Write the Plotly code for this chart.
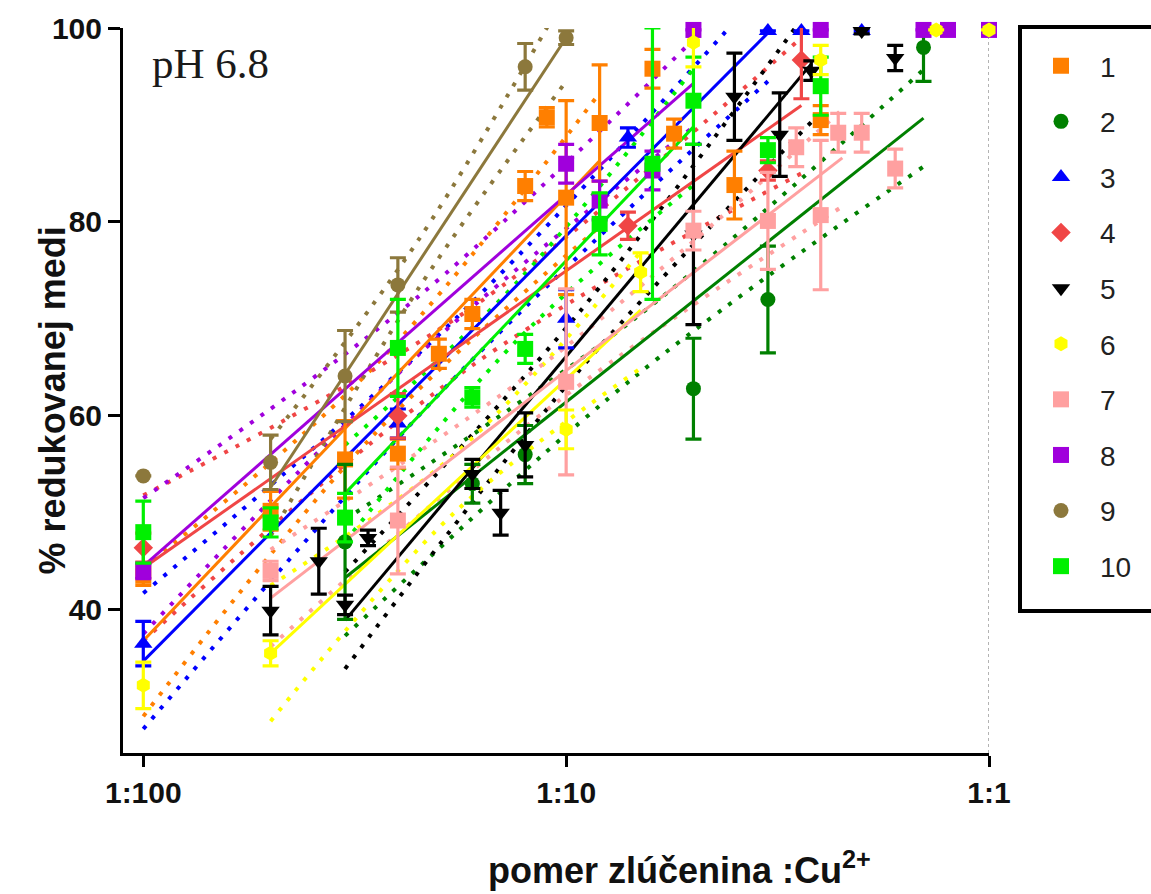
import plotly.graph_objects as go

# ---- data: ratio compound : Cu2+ (x) and % reduced copper (y) ----
names = ["1", "2", "3", "4", "5", "6", "7", "8", "9", "10"]

x1 = [0.01, 0.02, 0.03, 0.04, 0.05, 0.06, 0.08, 0.09, 0.1, 0.12, 0.16, 0.18, 0.25, 0.4]
y1 = [43.5, 50.2, 55.5, 56.1, 66.4, 70.5, 83.7, 90.8, 82.5, 90.2, 95.8, 89.1, 83.8, 90.5]
e1 = [1.0, 2.0, 4.0, 1.5, 1.5, 1.5, 1.5, 1.0, 10.0, 6.0, 2.0, 1.5, 3.5, 1.5]

x2 = [0.03, 0.06, 0.08, 0.2, 0.3, 0.7]
y2 = [47.0, 53.0, 56.0, 62.8, 72.0, 98.0]
e2 = [8.0, 2.0, 3.0, 5.2, 5.5, 3.5]

x3 = [0.01, 0.04, 0.1, 0.14, 0.3, 0.36, 0.5]
y3 = [36.5, 59.2, 70.0, 88.7, 99.7, 99.7, 99.7]
e3 = [2.3, 1.5, 3.0, 1.0, 0.0, 0.0, 0.0]

x4 = [0.01, 0.04, 0.14, 0.3, 0.36]
y4 = [46.4, 60.0, 79.6, 85.3, 96.7]
e4 = [1.5, 2.3, 1.4, 1.0, 4.0]

x5 = [0.02, 0.026, 0.03, 0.034, 0.06, 0.07, 0.08, 0.2, 0.25, 0.32, 0.38, 0.5, 0.6]
y5 = [39.9, 45.0, 40.5, 47.4, 54.0, 50.0, 57.0, 78.7, 92.9, 89.0, 95.6, 99.7, 96.9]
e5 = [2.5, 3.4, 1.0, 0.8, 1.5, 2.3, 3.3, 9.3, 4.5, 4.3, 1.0, 0.3, 1.3]

x6 = [0.01, 0.02, 0.1, 0.15, 0.2, 0.4, 0.75, 1.0]
y6 = [32.2, 35.5, 58.6, 74.8, 98.5, 96.7, 99.8, 99.8]
e6 = [2.4, 1.3, 2.0, 2.0, 2.5, 1.5, 0.0, 0.0]

x7 = [0.02, 0.04, 0.1, 0.2, 0.3, 0.35, 0.4, 0.44, 0.5, 0.6]
y7 = [44.0, 49.2, 63.5, 79.1, 80.1, 87.7, 80.7, 89.2, 89.2, 85.5]
e7 = [1.0, 5.5, 9.6, 2.0, 5.0, 2.0, 7.7, 2.0, 2.0, 2.0]

x8 = [0.01, 0.1, 0.12, 0.16, 0.2, 0.4, 0.7, 0.8, 1.0]
y8 = [44.0, 86.0, 82.2, 85.3, 99.8, 99.8, 99.8, 99.8, 99.8]
e8 = [0.8, 2.0, 2.0, 2.0, 0.0, 0.0, 0.0, 0.0, 0.0]

x9 = [0.01, 0.02, 0.03, 0.04, 0.08, 0.1]
y9 = [53.8, 55.2, 64.1, 73.5, 96.0, 99.0]
e9 = [0.0, 2.8, 4.7, 2.8, 2.4, 0.7]

x10 = [0.01, 0.02, 0.03, 0.04, 0.06, 0.08, 0.12, 0.16, 0.2, 0.3, 0.4]
y10 = [48.0, 49.0, 49.5, 67.0, 61.9, 66.9, 79.8, 86.0, 92.5, 87.4, 94.0]
e10 = [3.2, 1.5, 2.5, 5.0, 1.0, 1.5, 3.2, 14.0, 4.5, 1.3, 3.0]

# linear fits on log scale (end points) and 95% confidence bands (start, middle, end)
fit_x = [[0.01, 0.12], [0.03, 0.7], [0.01, 0.3], [0.01, 0.36], [0.03, 0.38],
         [0.02, 0.15], [0.02, 0.45], [0.01, 0.2], [0.02, 0.1], [0.03, 0.2]]
fit_y = [[36.8, 86.3], [43.3, 90.7], [34.7, 99.5], [44.3, 92.0], [38.9, 96.3],
         [35.5, 70.9], [41.2, 86.6], [44.5, 94.3], [52.6, 99.0], [52.0, 89.8]]
band_x = [[0.01, 0.035, 0.12], [0.03, 0.145, 0.7], [0.01, 0.055, 0.3], [0.01, 0.06, 0.36],
          [0.03, 0.107, 0.38], [0.02, 0.055, 0.15], [0.02, 0.095, 0.45], [0.01, 0.045, 0.2],
          [0.02, 0.045, 0.1], [0.03, 0.077, 0.2]]
band_hi = [[44.3, 65.0, 93.3], [49.3, 70.0, 95.7], [41.7, 70.1, 104.5], [51.8, 71.2, 99.0],
           [43.9, 70.6, 102.3], [42.5, 56.2, 76.9], [46.2, 66.4, 91.6], [51.5, 72.4, 98.8],
           [57.6, 78.3, 103.5], [57.0, 73.9, 95.8]]
band_lo = [[29.0, 58.0, 79.5], [37.3, 64.0, 85.7], [27.7, 64.1, 94.5], [36.8, 65.2, 85.0],
           [33.9, 64.6, 90.3], [28.5, 50.2, 64.9], [36.2, 61.4, 81.6], [37.5, 66.4, 89.8],
           [47.6, 73.3, 94.5], [47.0, 67.9, 83.8]]

xs = [x1, x2, x3, x4, x5, x6, x7, x8, x9, x10]
ys = [y1, y2, y3, y4, y5, y6, y7, y8, y9, y10]
es = [e1, e2, e3, e4, e5, e6, e7, e8, e9, e10]

colors = ["#FF7F00", "#008000", "#0000FF", "#F04646", "#000000",
          "#FFFF00", "#FFA0A0", "#A000DC", "#8C783C", "#00F000"]
symbols = ["square", "circle", "triangle-up", "diamond", "triangle-down",
           "hexagon", "square", "square", "circle", "square"]
sizes = [16, 15, 16, 15, 16, 15, 16, 16, 15, 16]

# stacking order of the markers (yellow series sits on top)
draw_order = [0, 1, 2, 3, 4, 6, 7, 8, 9, 5]

fig = go.Figure()

# dotted confidence bands
for i in range(10):
    for band in (band_hi[i], band_lo[i]):
        fig.add_trace(go.Scatter(
            x=band_x[i], y=band, mode="lines", showlegend=False, hoverinfo="skip",
            line=dict(color=colors[i], width=4, dash="4px,9px", shape="spline")))

# fitted lines
for i in range(10):
    fig.add_trace(go.Scatter(
        x=fit_x[i], y=fit_y[i], mode="lines", showlegend=False, hoverinfo="skip",
        line=dict(color=colors[i], width=3)))

# mean values with error bars
for i in draw_order:
    fig.add_trace(go.Scatter(
        x=xs[i], y=ys[i], mode="markers", name=names[i], legendgroup=names[i],
        legendrank=i + 1, cliponaxis=False,
        marker=dict(symbol=symbols[i], size=sizes[i], color=colors[i], line=dict(width=0)),
        error_y=dict(type="data", array=es[i], visible=True, color=colors[i],
                     thickness=3.2, width=8)))

# dotted reference line at 1:1
fig.add_shape(type="line", xref="x", yref="paper", x0=1, x1=1, y0=0, y1=1,
              line=dict(color="#9a9a9a", width=1.5, dash="dot"), layer="below")

# frame around the legend (runs past the right edge)
fig.add_shape(type="rect", xref="paper", yref="paper",
              x0=1.0358, x1=1.209, y0=0.1959, y1=1.0014,
              line=dict(color="black", width=4), fillcolor="rgba(0,0,0,0)")

tick_font = dict(family="Liberation Sans, Arial", size=30, color="#111", weight="bold")

fig.update_xaxes(type="log", range=[-2.048, 0], tickvals=[0.01, 0.1, 1],
                 ticktext=["1:100", "1:10", "1:1"], showline=True, linewidth=3,
                 linecolor="black", ticks="outside", ticklen=11, tickwidth=3,
                 tickcolor="black", showgrid=False, zeroline=False, tickfont=tick_font)
fig.update_yaxes(range=[25.22, 100], tickvals=[40, 60, 80, 100], showline=True,
                 linewidth=3, linecolor="black", ticks="outside", ticklen=12,
                 tickwidth=3, tickcolor="black", showgrid=False, zeroline=False,
                 tickfont=tick_font)

title_font = dict(family="Liberation Sans, Arial", size=36, color="#111", weight="bold")
fig.add_annotation(text="% redukovanej medi", xref="paper", yref="paper",
                   x=-0.1074, y=0.487, textangle=-90, showarrow=False, font=title_font)
fig.add_annotation(text="pomer zlúčenina :Cu<sup>2+</sup>", xref="paper", yref="paper",
                   x=0.4192, y=-0.1586, xanchor="left", yanchor="middle",
                   showarrow=False, font=title_font)
fig.add_annotation(text="pH 6.8", xref="paper", yref="paper", x=0.031, y=0.9517,
                   xanchor="left", yanchor="middle", showarrow=False,
                   font=dict(family="Liberation Serif, Times New Roman", size=43, color="#1a1a1a"))

fig.update_layout(
    width=1151, height=894,
    margin=dict(l=123, r=162, t=28, b=141, autoexpand=False),
    paper_bgcolor="white", plot_bgcolor="white",
    showlegend=True,
    legend=dict(x=1.0381, y=0.982, xanchor="left", yanchor="top",
                borderwidth=0, bgcolor="rgba(0,0,0,0)",
                font=dict(family="Liberation Sans, Arial", size=28, color="#222"),
                traceorder="grouped", tracegroupgap=16.2, itemwidth=68),
)

fig.write_html("out.html")
